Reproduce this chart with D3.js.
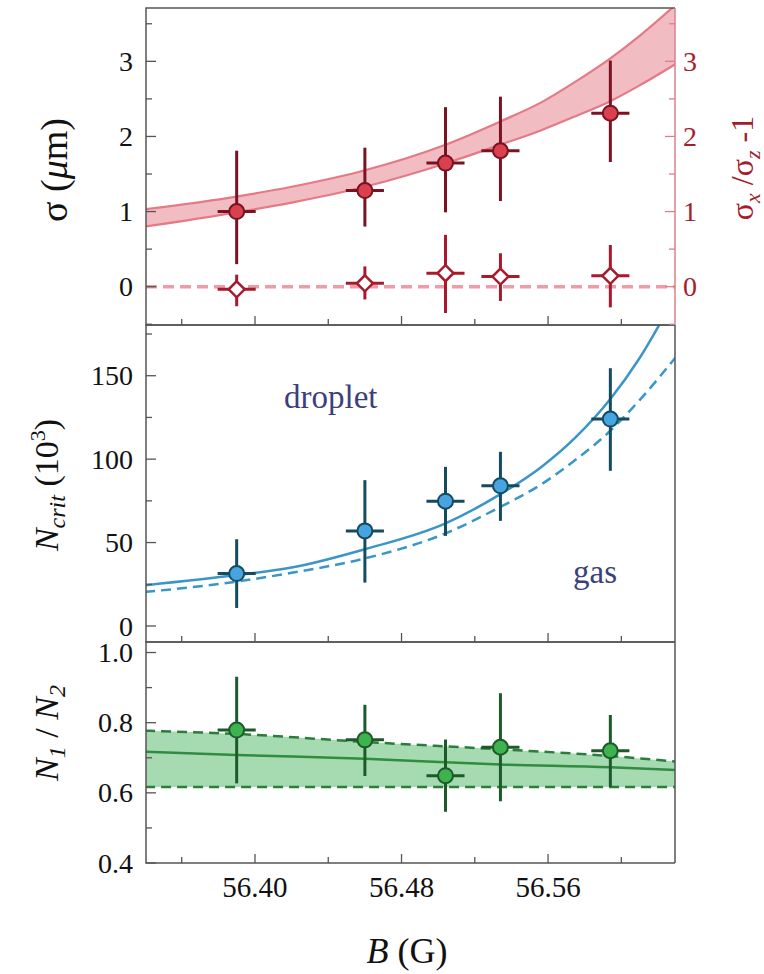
<!DOCTYPE html>
<html>
<head>
<meta charset="utf-8">
<script src="https://cdn.jsdelivr.net/npm/d3@7"></script>
<style>
  body { margin: 0; background: #fff; }
  svg { display: block; font-family: "Liberation Serif", "Times New Roman", serif; }
</style>
</head>
<body>
<svg id="chart" width="764" height="974"></svg>
<script>
// measured points (magnetic field in G)
var fieldB = [56.390, 56.460, 56.504, 56.534, 56.594];
var fieldErr = 0.0104;

// top panel: cloud size sigma (um) and sigma_x/sigma_z - 1
var sigma   = [1.00, 1.28, 1.645, 1.81, 2.31];
var sigmaLo = [0.30, 0.80, 0.99, 1.14, 1.66];
var sigmaHi = [1.81, 1.85, 2.39, 2.53, 3.01];
var aspect   = [-0.035, 0.045, 0.18, 0.135, 0.145];
var aspectLo = [-0.26, -0.17, -0.35, -0.19, -0.275];
var aspectHi = [0.16, 0.27, 0.69, 0.445, 0.555];
var curveB    = [56.34, 56.39, 56.42, 56.46, 56.504, 56.534, 56.556, 56.575, 56.594, 56.61, 56.63];
var bandUpper = [1.03, 1.20, 1.33, 1.55, 1.89, 2.20, 2.45, 2.73, 3.04, 3.34, 3.76];
var bandLower = [0.80, 0.99, 1.12, 1.33, 1.64, 1.89, 2.08, 2.27, 2.47, 2.68, 2.97];

// middle panel: critical atom number (10^3)
var nCrit   = [31.4, 57, 74.8, 84, 124];
var nCritLo = [10.8, 26, 54, 63, 93];
var nCritHi = [52, 87.4, 95.4, 104.4, 154.5];
var solidN  = [24.4, 30.5, 35.0, 46.0, 61.5, 79, 95, 113, 136, 160.6, 199];
var dashedN = [20.4, 26.6, 31.9, 40.5, 55.5, 71.4, 84.7, 99.6, 117, 135.4, 161.5];

// bottom panel: N1/N2
var ratio   = [0.779, 0.751, 0.649, 0.730, 0.720];
var ratioLo = [0.627, 0.648, 0.546, 0.576, 0.617];
var ratioHi = [0.931, 0.851, 0.752, 0.884, 0.822];
var ratioB     = [56.34, 56.39, 56.46, 56.534, 56.594, 56.63];
var ratioUpper = [0.777, 0.768, 0.745, 0.724, 0.705, 0.689];
var ratioFit   = [0.717, 0.708, 0.697, 0.681, 0.673, 0.665];
var ratioLower = [0.617, 0.617, 0.617, 0.617, 0.617, 0.617];

var xTicks = [56.36, 56.40, 56.44, 56.48, 56.52, 56.56, 56.60];
var xLabels = [56.40, 56.48, 56.56];

var svg = d3.select('#chart');
var left = 146, right = 675;
var x = d3.scaleLinear().domain([56.3405, 56.6293]).range([left, right]);

var panels = [
  {top: 8, bottom: 325, domain: [-0.51, 3.71], ticks: d3.range(-0.5, 3.6, 0.5), labels: [0, 1, 2, 3], fmt: d3.format('d')},
  {top: 325, bottom: 642, domain: [-9.6, 180.4], ticks: d3.range(0, 176, 25), labels: [0, 50, 100, 150], fmt: d3.format('d')},
  {top: 642, bottom: 863, domain: [0.4, 1.03], ticks: [0.4, 0.5, 0.6, 0.7, 0.8, 0.9, 1.0], labels: [0.4, 0.6, 0.8, 1.0], fmt: d3.format('.1f')}
];
panels.forEach(function(p, i){
  p.y = d3.scaleLinear().domain(p.domain).range([p.bottom, p.top]);
  svg.append('clipPath').attr('id', 'clip' + i)
    .append('rect').attr('x', left).attr('y', p.top).attr('width', right - left).attr('height', p.bottom - p.top);
});

function isLabel(v, list){
  return list.some(function(l){ return Math.abs(l - v) < 1e-6; });
}

function errorBars(g, yScale, vals, lo, hi, color){
  var pts = fieldB.map(function(b, i){ return {b: b, v: vals[i], lo: lo[i], hi: hi[i]}; });
  g.selectAll(null).data(pts).enter().append('line')
    .attr('x1', function(d){ return x(d.b); }).attr('x2', function(d){ return x(d.b); })
    .attr('y1', function(d){ return yScale(d.lo); }).attr('y2', function(d){ return yScale(d.hi); })
    .style('stroke', color).style('stroke-width', 3);
  g.selectAll(null).data(pts).enter().append('line')
    .attr('x1', function(d){ return x(d.b - fieldErr); }).attr('x2', function(d){ return x(d.b + fieldErr); })
    .attr('y1', function(d){ return yScale(d.v); }).attr('y2', function(d){ return yScale(d.v); })
    .style('stroke', color).style('stroke-width', 3);
  return pts;
}

function curve(yScale){
  return d3.line().curve(d3.curveMonotoneX)
    .x(function(d){ return x(d[0]); }).y(function(d){ return yScale(d[1]); });
}
function zipB(bs, vs){
  return bs.map(function(b, i){ return [b, vs[i]]; });
}

var p0 = panels[0], p1 = panels[1], p2 = panels[2];

// ---- top panel ----
var topG = svg.append('g').attr('clip-path', 'url(#clip0)');
topG.append('path').datum(curveB.map(function(b, i){ return {b: b, lo: bandLower[i], hi: bandUpper[i]}; }))
  .attr('d', d3.area().curve(d3.curveMonotoneX)
    .x(function(d){ return x(d.b); }).y0(function(d){ return p0.y(d.lo); }).y1(function(d){ return p0.y(d.hi); }))
  .style('fill', '#f2bcc3');
[bandLower, bandUpper].forEach(function(arr){
  topG.append('path').datum(zipB(curveB, arr))
    .attr('d', curve(p0.y))
    .style('fill', 'none').style('stroke', '#e57a87').style('stroke-width', 2.2);
});
topG.append('line').attr('x1', left).attr('x2', right).attr('y1', p0.y(0)).attr('y2', p0.y(0))
  .style('stroke', '#f09ba6').style('stroke-width', 3.5).style('stroke-dasharray', '11,6');

var aspPts = errorBars(topG, p0.y, aspect, aspectLo, aspectHi, '#a8192b');
topG.selectAll('.dia').data(aspPts).enter().append('path')
  .attr('d', 'M0,-8L8,0L0,8L-8,0Z')
  .attr('transform', function(d){ return 'translate(' + x(d.b) + ',' + p0.y(d.v) + ')'; })
  .style('fill', '#fff').style('stroke', '#a8192b').style('stroke-width', 2.5);

var sigPts = errorBars(topG, p0.y, sigma, sigmaLo, sigmaHi, '#7a1222');
topG.selectAll('.sig').data(sigPts).enter().append('circle')
  .attr('cx', function(d){ return x(d.b); }).attr('cy', function(d){ return p0.y(d.v); }).attr('r', 7.5)
  .style('fill', '#d9414f').style('stroke', '#7a1222').style('stroke-width', 2);

// ---- middle panel ----
var midG = svg.append('g').attr('clip-path', 'url(#clip1)');
midG.append('path').datum(zipB(curveB, solidN))
  .attr('d', curve(p1.y))
  .style('fill', 'none').style('stroke', '#3a96c6').style('stroke-width', 2.5);
midG.append('path').datum(zipB(curveB, dashedN))
  .attr('d', curve(p1.y))
  .style('fill', 'none').style('stroke', '#3a96c6').style('stroke-width', 2.5).style('stroke-dasharray', '10,6');
var critPts = errorBars(midG, p1.y, nCrit, nCritLo, nCritHi, '#154b5e');
midG.selectAll('.nc').data(critPts).enter().append('circle')
  .attr('cx', function(d){ return x(d.b); }).attr('cy', function(d){ return p1.y(d.v); }).attr('r', 7.5)
  .style('fill', '#46a4e0').style('stroke', '#154b5e').style('stroke-width', 2);
svg.append('text').attr('x', 284).attr('y', 408).style('font-size', '33px').style('fill', '#3b3f7c').text('droplet');
svg.append('text').attr('x', 573).attr('y', 583).style('font-size', '33px').style('fill', '#3b3f7c').text('gas');

// ---- bottom panel ----
var botG = svg.append('g').attr('clip-path', 'url(#clip2)');
botG.append('path').datum(ratioB.map(function(b, i){ return {b: b, lo: ratioLower[i], hi: ratioUpper[i]}; }))
  .attr('d', d3.area().curve(d3.curveMonotoneX)
    .x(function(d){ return x(d.b); }).y0(function(d){ return p2.y(d.lo); }).y1(function(d){ return p2.y(d.hi); }))
  .style('fill', '#a6dbb1');
[ratioUpper, ratioLower].forEach(function(arr){
  botG.append('path').datum(zipB(ratioB, arr))
    .attr('d', curve(p2.y))
    .style('fill', 'none').style('stroke', '#2c7d3b').style('stroke-width', 2.5).style('stroke-dasharray', '10,6');
});
botG.append('path').datum(zipB(ratioB, ratioFit))
  .attr('d', curve(p2.y))
  .style('fill', 'none').style('stroke', '#2f8c40').style('stroke-width', 2.5);
var ratPts = errorBars(botG, p2.y, ratio, ratioLo, ratioHi, '#1c5a2a');
botG.selectAll('.rp').data(ratPts).enter().append('circle')
  .attr('cx', function(d){ return x(d.b); }).attr('cy', function(d){ return p2.y(d.v); }).attr('r', 7.5)
  .style('fill', '#3db24f').style('stroke', '#1c5a2a').style('stroke-width', 2);

// ---- axes and frames for each panel ----
panels.forEach(function(p, i){
  var g = svg.append('g');
  g.selectAll('.xt').data(xTicks).enter().append('line')
    .attr('x1', function(d){ return x(d); }).attr('x2', function(d){ return x(d); })
    .attr('y1', p.bottom).attr('y2', function(d){ return p.bottom - (isLabel(d, xLabels) ? 9 : 6); })
    .style('stroke', '#555').style('stroke-width', 1.3);
  g.selectAll('.yt').data(p.ticks).enter().append('line')
    .attr('x1', left).attr('x2', function(d){ return left + (isLabel(d, p.labels) ? 10 : 6); })
    .attr('y1', function(d){ return p.y(d); }).attr('y2', function(d){ return p.y(d); })
    .style('stroke', '#555').style('stroke-width', 1.3);
  g.selectAll('.yl').data(p.labels).enter().append('text')
    .attr('x', 133).attr('y', function(d){ return p.y(d); }).attr('dy', '0.34em')
    .attr('text-anchor', 'end').style('font-size', '28px').style('fill', '#111')
    .text(p.fmt);
  g.append('path')
    .attr('d', 'M' + right + ',' + p.top + 'H' + left + 'V' + p.bottom + 'H' + right)
    .style('fill', 'none').style('stroke', '#555').style('stroke-width', 1.5);
  g.append('line').attr('x1', right).attr('x2', right).attr('y1', p.top).attr('y2', p.bottom)
    .style('stroke', i === 0 ? '#d9808c' : '#555').style('stroke-width', 1.5);
});

// right axis of top panel
svg.selectAll('.rt').data(p0.ticks).enter().append('line')
  .attr('x1', right).attr('x2', function(d){ return right - (isLabel(d, p0.labels) ? 10 : 6); })
  .attr('y1', function(d){ return p0.y(d); }).attr('y2', function(d){ return p0.y(d); })
  .style('stroke', '#d9808c').style('stroke-width', 1.3);
svg.selectAll('.rl').data(p0.labels).enter().append('text')
  .attr('x', 683).attr('y', function(d){ return p0.y(d); }).attr('dy', '0.34em')
  .style('font-size', '28px').style('fill', '#a51d2d')
  .text(p0.fmt);

// x tick labels on bottom panel
svg.selectAll('.xl').data(xLabels).enter().append('text')
  .attr('x', function(d){ return x(d); }).attr('y', 897)
  .attr('text-anchor', 'middle').style('font-size', '29px').style('fill', '#111')
  .text(d3.format('.2f'));

// ---- axis titles ----
function vtitle(cx, cy, color){
  return svg.append('text')
    .attr('transform', 'translate(' + cx + ',' + cy + ') rotate(-90)')
    .attr('text-anchor', 'middle').attr('dy', '0.35em')
    .style('font-size', '34px').style('fill', color);
}
var t1 = vtitle(54, 170, '#111').style('font-size', '38px');
t1.append('tspan').text('σ (');
t1.append('tspan').style('font-style', 'italic').text('μ');
t1.append('tspan').text('m)');

var t2 = vtitle(46, 485, '#111');
t2.append('tspan').style('font-style', 'italic').text('N');
t2.append('tspan').style('font-style', 'italic').style('font-size', '24px').attr('dy', 7).text('crit');
t2.append('tspan').attr('dy', -7).text(' (10');
t2.append('tspan').style('font-size', '22px').attr('dy', -13).text('3');
t2.append('tspan').attr('dy', 13).text(')');

var t3 = vtitle(46, 733, '#111');
t3.append('tspan').style('font-style', 'italic').text('N');
t3.append('tspan').style('font-style', 'italic').style('font-size', '24px').attr('dy', 7).text('1');
t3.append('tspan').attr('dy', -7).text(' / ');
t3.append('tspan').style('font-style', 'italic').text('N');
t3.append('tspan').style('font-style', 'italic').style('font-size', '24px').attr('dy', 7).text('2');

var t4 = vtitle(742, 168, '#a51d2d');
t4.style('font-size', '32px');
t4.append('tspan').text('σ');
t4.append('tspan').style('font-style', 'italic').style('font-size', '22px').attr('dy', 7).text('x');
t4.append('tspan').attr('dy', -7).text(' /σ');
t4.append('tspan').style('font-style', 'italic').style('font-size', '22px').attr('dy', 7).text('z');
t4.append('tspan').attr('dy', -7).text(' -1');

var xt = svg.append('text').attr('x', 407).attr('y', 963).attr('text-anchor', 'middle')
  .style('font-size', '36px').style('fill', '#111');
xt.append('tspan').style('font-style', 'italic').text('B');
xt.append('tspan').text(' (G)');
</script>
</body>
</html>
